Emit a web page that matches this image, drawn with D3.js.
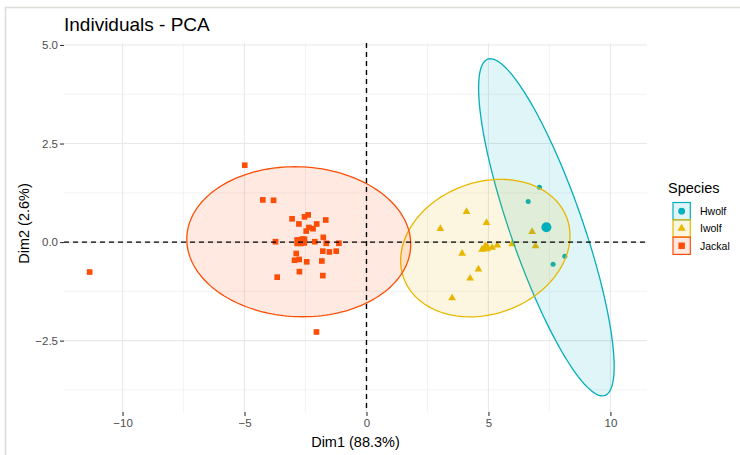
<!DOCTYPE html>
<html>
<head>
<meta charset="utf-8">
<script src="https://cdn.jsdelivr.net/npm/d3@7"></script>
<style>
  html, body { margin: 0; padding: 0; background: #fff; }
  svg { display: block; font-family: "Liberation Sans", Arial, Helvetica, sans-serif; }
</style>
</head>
<body>
<svg id="chart" width="740" height="455"></svg>
<script>
// ---- data ----
const species = ["Hwolf", "Iwolf", "Jackal"];
const speciesColors = ["#00AFBB", "#E7B800", "#FC4E07"];

const hwolfX = [7.09, 6.63, 8.13, 7.65];
const hwolfY = [1.39, 1.03, -0.36, -0.56];

const iwolfX = [4.10, 4.92, 3.03, 6.79, 6.93, 5.97, 5.36, 5.15, 4.74, 3.92, 4.59, 4.25, 3.51, 4.95];
const iwolfY = [0.77, 0.49, 0.34, 0.26, -0.10, -0.05, -0.08, -0.14, -0.19, -0.29, -0.69, -0.92, -1.42, -0.12];

const jackalX = [-4.99, -4.25, -3.81, -3.05, -2.77, -2.54, -2.39, -1.67, -2.04, -2.36, -2.19, -2.47,
                 -1.77, -3.73, -2.81, -2.54, -2.70, -2.12, -1.65, -1.13, -1.79, -1.52, -1.24, -2.88,
                 -2.95, -2.76, -2.45, -1.83, -3.66, -2.75, -1.79, -2.05, -11.35, -2.62, -2.55];
const jackalY = [1.95, 1.07, 1.06, 0.59, 0.46, 0.64, 0.69, 0.56, 0.46, 0.37, 0.34, 0.28,
                 0.12, 0.01, 0.05, 0.07, -0.03, 0.01, -0.03, -0.03, -0.23, -0.25, -0.23, -0.29,
                 -0.46, -0.44, -0.50, -0.48, -0.89, -0.75, -0.85, -2.28, -0.76, 0.08, -0.02];

// ellipse shape (variance / covariance, data units) per species
const ellipseVarX = [7.72, 12.05, 21.07];
const ellipseVarY = [18.28, 3.04, 3.62];
const ellipseCov  = [-9.81, 1.09, -0.30];

const xTicks = [-10, -5, 0, 5, 10];
const xMinor = [-7.5, -2.5, 2.5, 7.5];
const yTicks = [-2.5, 0, 2.5, 5];
const yMinor = [-3.75, -1.25, 1.25, 3.75];

const titleText = "Individuals - PCA";
const xTitle = "Dim1 (88.3%)";
const yTitle = "Dim2 (2.6%)";
const legendTitle = "Species";

// ---- layout ----
const svg = d3.select("#chart");
const panel = { left: 64, right: 647, top: 43, bottom: 412 };
const x = d3.scaleLinear().domain([-12.4, 11.5]).range([panel.left, panel.right]);
const y = d3.scaleLinear().domain([-4.31, 5.05]).range([panel.bottom, panel.top]);

// frame of screenshot
svg.append("line").attr("x1", 5).attr("x2", 740).attr("y1", 7.5).attr("y2", 7.5)
  .attr("stroke", "#dcdcd6").attr("stroke-width", 1.5);
svg.append("line").attr("x1", 5.5).attr("x2", 5.5).attr("y1", 7).attr("y2", 455)
  .attr("stroke", "#dcdcd6").attr("stroke-width", 1.5);

// grid
const grid = svg.append("g");
grid.selectAll(".vmin").data(xMinor).enter().append("line")
  .attr("x1", d => x(d)).attr("x2", d => x(d)).attr("y1", panel.top).attr("y2", panel.bottom)
  .attr("stroke", "#f0f0f0").attr("stroke-width", 0.8);
grid.selectAll(".hmin").data(yMinor).enter().append("line")
  .attr("y1", d => y(d)).attr("y2", d => y(d)).attr("x1", panel.left).attr("x2", panel.right)
  .attr("stroke", "#f0f0f0").attr("stroke-width", 0.8);
grid.selectAll(".vmaj").data(xTicks).enter().append("line")
  .attr("x1", d => x(d)).attr("x2", d => x(d)).attr("y1", panel.top).attr("y2", panel.bottom)
  .attr("stroke", "#e8e8e8").attr("stroke-width", 1.1);
grid.selectAll(".hmaj").data(yTicks).enter().append("line")
  .attr("y1", d => y(d)).attr("y2", d => y(d)).attr("x1", panel.left).attr("x2", panel.right)
  .attr("stroke", "#e8e8e8").attr("stroke-width", 1.1);

// axes
const xAxis = d3.axisBottom(x).tickValues(xTicks).tickSize(4).tickPadding(3).tickFormat(d3.format("d"));
const yAxis = d3.axisLeft(y).tickValues(yTicks).tickSize(4).tickPadding(2).tickFormat(d3.format(".1f"));
const gx = svg.append("g").attr("transform", `translate(0,${panel.bottom})`).call(xAxis);
const gy = svg.append("g").attr("transform", `translate(${panel.left},0)`).call(yAxis);
[gx, gy].forEach(g => {
  g.select(".domain").remove();
  g.selectAll(".tick line").attr("stroke", "#333").attr("stroke-width", 1.1);
  g.selectAll(".tick text").attr("fill", "#4d4d4d").style("font-size", "11.5px")
    .style("font-family", "'Liberation Sans', Arial, sans-serif");
});
gx.selectAll(".tick text").attr("dy", "0.71em");

// groups
const groups = [
  { name: species[0], xs: hwolfX, ys: hwolfY, color: speciesColors[0], type: d3.symbolCircle, size: 20, meanSize: 78 },
  { name: species[1], xs: iwolfX, ys: iwolfY, color: speciesColors[1], type: d3.symbolTriangle, size: 26, meanSize: 55 },
  { name: species[2], xs: jackalX, ys: jackalY, color: speciesColors[2], type: d3.symbolSquare, size: 32, meanSize: 80 }
];
groups.forEach((g, i) => {
  g.cx = d3.mean(g.xs); g.cy = d3.mean(g.ys);
  g.vx = ellipseVarX[i]; g.vy = ellipseVarY[i]; g.cov = ellipseCov[i];
});

// points
const pts = svg.append("g");
groups.forEach(g => {
  pts.selectAll(null).data(g.xs.map((v, k) => [v, g.ys[k]])).enter().append("path")
    .attr("d", d3.symbol().type(g.type).size(g.size))
    .attr("transform", d => `translate(${x(d[0])},${y(d[1])})`)
    .attr("fill", g.color);
});

// ellipses (Cholesky param of shape matrix)
const ell = svg.append("g");
const line = d3.line().x(d => x(d[0])).y(d => y(d[1])).curve(d3.curveLinearClosed);
groups.forEach(g => {
  const l11 = Math.sqrt(g.vx);
  const l21 = g.cov / l11;
  const l22 = Math.sqrt(g.vy - l21 * l21);
  const ts = d3.range(0, 2 * Math.PI, Math.PI / 90);
  const poly = ts.map(t => [g.cx + l11 * Math.cos(t), g.cy + l21 * Math.cos(t) + l22 * Math.sin(t)]);
  ell.append("path").attr("d", line(poly))
    .attr("fill", g.color).attr("fill-opacity", 0.12)
    .attr("stroke", g.color).attr("stroke-width", 1.3);
});

// mean points
groups.forEach(g => {
  svg.append("path").attr("d", d3.symbol().type(g.type).size(g.meanSize))
    .attr("transform", `translate(${x(g.cx)},${y(g.cy)})`).attr("fill", g.color);
});

// reference dashed lines
svg.append("line").attr("x1", panel.left).attr("x2", panel.right).attr("y1", y(0)).attr("y2", y(0))
  .attr("stroke", "#000").attr("stroke-width", 1.4).attr("stroke-dasharray", "5,4");
svg.append("line").attr("x1", x(0)).attr("x2", x(0)).attr("y1", panel.top).attr("y2", panel.bottom)
  .attr("stroke", "#000").attr("stroke-width", 1.4).attr("stroke-dasharray", "5,4");

// titles
svg.append("text").attr("x", 64).attr("y", 31).text(titleText)
  .style("font-size", "19px").attr("fill", "#000");
svg.append("text").attr("x", (panel.left + panel.right) / 2).attr("y", 447).attr("text-anchor", "middle")
  .text(xTitle).style("font-size", "14.5px").attr("fill", "#000");
svg.append("text").attr("transform", `translate(29,${(panel.top + panel.bottom) / 2 - 4}) rotate(-90)`)
  .attr("text-anchor", "middle").text(yTitle).style("font-size", "14.5px").attr("fill", "#000");

// legend
const lg = svg.append("g");
lg.append("text").attr("x", 668).attr("y", 193).text(legendTitle).style("font-size", "14.5px").attr("fill", "#000");
const keySize = 17.3, keyX = 673, keyY = 202.5;
const keyMarker = [36, 30, 42];
groups.forEach((g, i) => {
  const ky = keyY + i * keySize;
  lg.append("rect").attr("x", keyX).attr("y", ky).attr("width", keySize).attr("height", keySize)
    .attr("fill", g.color).attr("fill-opacity", 0.12).attr("stroke", g.color).attr("stroke-width", 1.2);
  lg.append("path").attr("d", d3.symbol().type(g.type).size(keyMarker[i]))
    .attr("transform", `translate(${keyX + keySize / 2},${ky + keySize / 2})`).attr("fill", g.color);
  lg.append("text").attr("x", 700).attr("y", ky + keySize / 2 + 4).text(g.name)
    .style("font-size", "10.5px").attr("fill", "#000");
});
</script>
</body>
</html>
